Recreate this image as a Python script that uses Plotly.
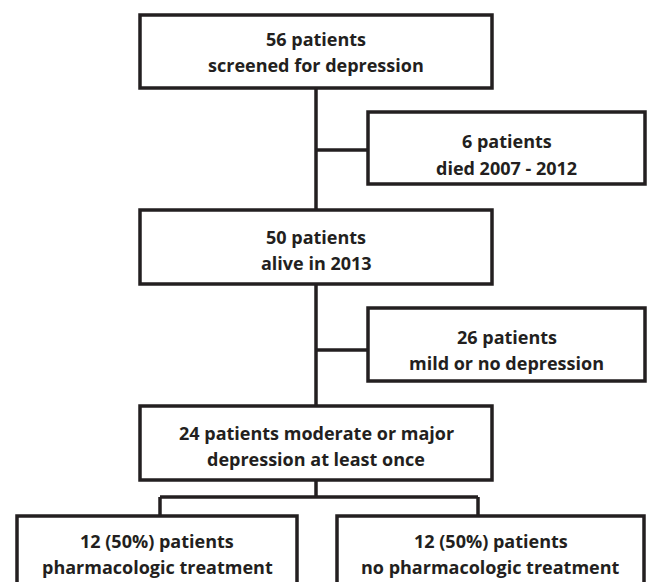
import plotly.graph_objects as go

# ---- data (flowchart content) ----
box_titles = ["56 patients", "6 patients", "50 patients", "26 patients",
              "24 patients moderate or major", "12 (50%) patients", "12 (50%) patients"]
box_subtitles = ["screened for depression", "died 2007 - 2012", "alive in 2013",
                 "mild or no depression", "depression at least once",
                 "pharmacologic treatment", "no pharmacologic treatment"]

# ---- layout geometry (pixels, y downward) ----
boxes = [  # x0, x1, y0, y1
    (140, 492, 15, 88),
    (368, 645, 112, 184),
    (140, 492, 210, 284),
    (368, 645, 308, 381),
    (140, 492, 406, 480),
    (17, 297, 516, 640),
    (337, 644, 516, 640),
]
W, H = 650, 582
COL = "#231f20"
LW = 3.5

connectors = [
    (316, 88, 316, 210),
    (316, 150, 368, 150),
    (316, 284, 316, 406),
    (316, 350, 368, 350),
    (316, 480, 316, 497),
    (160, 497, 478, 497),
    (160, 497, 160, 516),
    (478, 497, 478, 516),
]

fig = go.Figure()
fig.add_trace(go.Scatter(x=[0, W], y=[0, H], mode="markers",
                         marker=dict(opacity=0), hoverinfo="skip", showlegend=False))

shapes = []
for (x0, x1, y0, y1) in boxes:
    shapes.append(dict(type="rect", xref="x", yref="y", x0=x0, x1=x1, y0=y0, y1=y1,
                       line=dict(color=COL, width=LW), fillcolor="white", layer="below"))
for (x0, y0, x1, y1) in connectors:
    shapes.append(dict(type="line", xref="x", yref="y", x0=x0, y0=y0, x1=x1, y1=y1,
                       line=dict(color=COL, width=LW), layer="below"))

text_rows = [(39, 65), (141, 168), (237, 263), (337, 363), (433, 459), (541, 567), (541, 567)]
annotations = []
for i, (x0, x1, y0, y1) in enumerate(boxes):
    cx = (x0 + x1) / 2
    for txt, ty in zip((box_titles[i], box_subtitles[i]), text_rows[i]):
        annotations.append(dict(x=cx, y=ty, xref="x", yref="y", text="<b>" + txt + "</b>",
                                showarrow=False, xanchor="center", yanchor="middle",
                                font=dict(family="Open Sans", size=18, color=COL)))

fig.update_layout(
    width=W, height=H, margin=dict(l=0, r=0, t=0, b=0),
    paper_bgcolor="white", plot_bgcolor="white",
    xaxis=dict(range=[0, W], visible=False, fixedrange=True),
    yaxis=dict(range=[H, 0], visible=False, fixedrange=True),
    shapes=shapes, annotations=annotations, showlegend=False,
)
fig.write_html("out.html", config={"displayModeBar": False},
               post_script="document.body.style.margin='0';document.body.style.overflow='hidden';")
